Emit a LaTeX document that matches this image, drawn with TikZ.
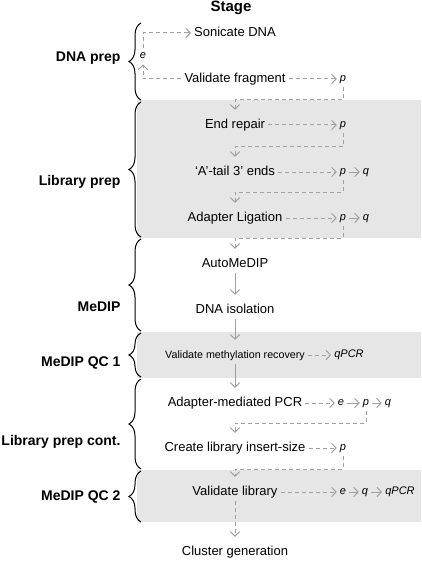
\documentclass[tikz,border=0pt]{standalone}
\usepackage{fontspec}
\setmainfont{Liberation Sans}
\usetikzlibrary{arrows.meta, decorations.pathreplacing, positioning}

\definecolor{arrowgray}{HTML}{A0A0A0}
\definecolor{boxgray}{HTML}{E6E6E6}

\begin{document}
\begin{tikzpicture}[
  x=1pt, y=-1pt,
  stepnode/.style={font=\fontsize{13}{15}\selectfont, inner sep=3pt, text height=9.5pt, text depth=2.6pt},
  smallstep/.style={stepnode, font=\fontsize{10.7}{13}\selectfont},
  result/.style={font=\fontsize{11}{13}\selectfont\itshape, inner sep=3pt, text height=8pt, text depth=2.5pt},
  stagelabel/.style={font=\fontsize{14}{17}\selectfont\bfseries, anchor=east},
  flow/.style={draw=arrowgray, line width=1pt, -{Straight Barb[length=4.5pt,width=9.5pt]}},
  dflow/.style={flow, dash pattern=on 4pt off 3pt},
  dline/.style={draw=arrowgray, line width=1pt, dash pattern=on 4pt off 3pt},
  down/.style={shorten >=6pt},
  stagebrace/.style={decorate, decoration={brace, amplitude=12pt}, line width=1pt},
  ]
  \useasboundingbox (0,0) rectangle (421,564);

  % shaded QC / library stages
  \fill[boxgray] (137,100) rectangle (421,238);
  \fill[boxgray] (137,332) rectangle (421,378);
  \fill[boxgray] (137,470) rectangle (421,522);

  \node[font=\fontsize{15}{17}\selectfont\bfseries] (stage) at (231,8) {Stage};

  % stages
  \draw[stagebrace] (141,100) -- (141,23);
  \draw[stagebrace] (141,237) -- (141,102);
  \draw[stagebrace] (141,331) -- (141,239);
  \draw[stagebrace] (141,377) -- (141,333);
  \draw[stagebrace] (141,469) -- (141,379);
  \draw[stagebrace] (141,522) -- (141,471);

  \node[stagelabel] (dnaprep) at (124,58) {DNA prep};
  \node[stagelabel] (libprep) at (124,182) {Library prep};
  \node[stagelabel] (medip) at (124,307) {MeDIP};
  \node[stagelabel] (qcone) at (124,363) {MeDIP QC 1};
  \node[stagelabel] (libcont) at (124,442) {Library prep cont.};
  \node[stagelabel] (qctwo) at (124,497) {MeDIP QC 2};

  % protocol steps
  \node[stepnode] (son) at (235,33) {Sonicate DNA};
  \node[stepnode] (vf) at (235,79) {Validate fragment};
  \node[stepnode] (er) at (235,125) {End repair};
  \node[stepnode] (at) at (235,172) {‘A’-tail 3’ ends};
  \node[stepnode] (al) at (235,218) {Adapter Ligation};
  \node[stepnode] (am) at (235,264) {AutoMeDIP};
  \node[stepnode] (di) at (235,310) {DNA isolation};
  \node[smallstep] (vm) at (235,355) {Validate methylation recovery};
  \node[stepnode] (ap) at (235,403) {Adapter-mediated PCR};
  \node[stepnode] (cl) at (235,448) {Create library insert-size};
  \node[stepnode] (vl) at (235,492) {Validate library};
  \node[stepnode] (cg) at (235,552) {Cluster generation};

  % checks
  \node[result] (e1) at (143,56) {e};
  \node[result] (p1) at (343,79) {p};
  \node[result] (p2) at (343,125) {p};
  \node[result] (p3) at (343,172) {p};
  \node[result] (q3) at (366,172) {q};
  \node[result] (p4) at (343,218) {p};
  \node[result] (q4) at (366,218) {q};
  \node[result] (qpcr1) at (349,355) {qPCR};
  \node[result] (e5) at (341,403) {e};
  \node[result] (p5) at (366,403) {p};
  \node[result] (q5) at (388,403) {q};
  \node[result] (p6) at (343,448) {p};
  \node[result] (e7) at (343,492) {e};
  \node[result] (q7) at (365,492) {q};
  \node[result] (qpcr2) at (400,492) {qPCR};

  % connectors
  \draw[dflow] (vf.west) -| (e1.south);
  \draw[dline] (e1.north) |- (188,33);
  \draw[flow] (188,33) ++(-1,0) -- (son.west);
  \draw[dflow] (vf) -- (p1);
  \draw[dflow, down] (p1.south) -- (p1.south |- 0,100) -| (er.north);
  \draw[dflow] (er) -- (p2);
  \draw[dflow, down] (p2.south) -- (p2.south |- 0,147) -| (at.north);
  \draw[dflow] (at) -- (p3);
  \draw[flow] (p3) -- (q3);
  \draw[dflow, down] (p3.south) -- (p3.south |- 0,192) -| (al.north);
  \draw[dflow] (al) -- (p4);
  \draw[flow] (p4) -- (q4);
  \draw[dflow, down] (p4.south) -- (p4.south |- 0,238) -| (am.north);
  \draw[flow, down] (am) -- (di);
  \draw[flow, down] (di) -- (vm);
  \draw[dflow] (vm) -- (qpcr1);
  \draw[flow, down] (vm) -- (ap);
  \draw[dflow] (ap) -- (e5);
  \draw[flow] (e5) -- (p5);
  \draw[flow] (p5) -- (q5);
  \draw[dflow, down] (p5.south) -- (p5.south |- 0,423) -| (cl.north);
  \draw[dflow] (cl) -- (p6);
  \draw[dflow, down] (p6.south) -- (p6.south |- 0,469) -| (vl.north);
  \draw[dflow] (vl) -- (e7);
  \draw[flow] (e7) -- (q7);
  \draw[flow] (q7) -- (qpcr2);
  \draw[dflow, down] (vl) -- (cg);
\end{tikzpicture}
\end{document}
